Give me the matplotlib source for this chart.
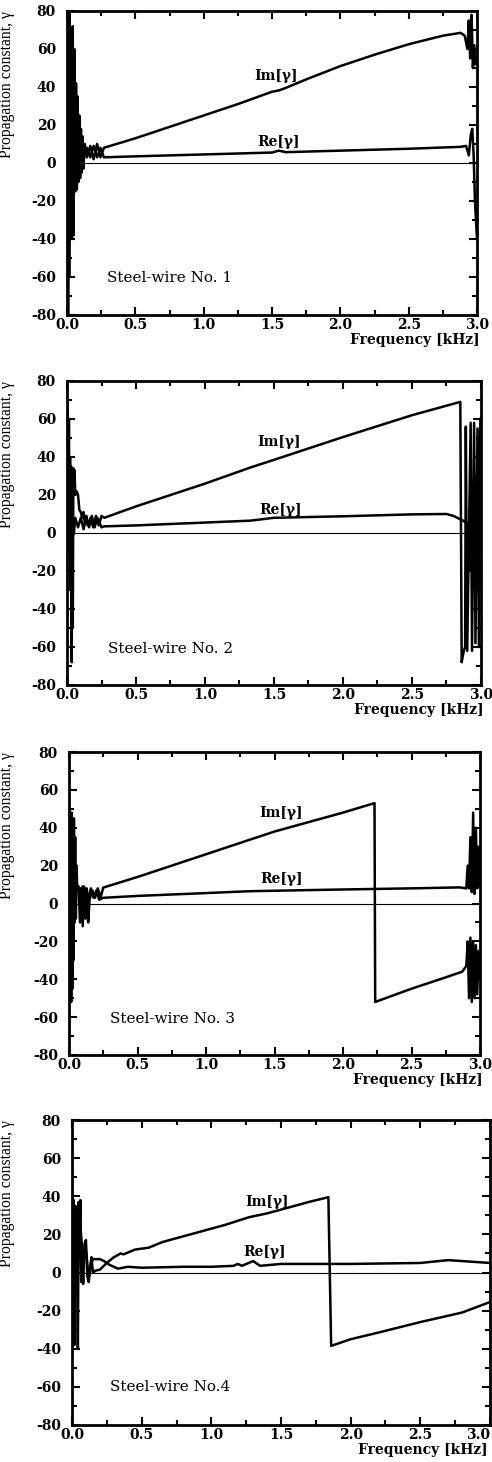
import matplotlib
matplotlib.use("Agg")
import matplotlib.pyplot as plt
from matplotlib.ticker import MultipleLocator

# ---------------- data ----------------
# Panel 1 : Steel-wire No. 1
im1_f = [0.000, 0.004, 0.008, 0.012, 0.016, 0.020, 0.024, 0.030, 0.036, 0.042, 0.048, 0.054,
         0.060, 0.066, 0.072, 0.078, 0.084, 0.090, 0.096, 0.102, 0.108, 0.114, 0.120, 0.130,
         0.145, 0.170, 0.195, 0.220, 0.245, 0.27, 0.5, 0.75, 1.0, 1.25, 1.5, 1.55, 1.6, 1.75,
         2.0, 2.25, 2.5, 2.75, 2.88, 2.91, 2.93, 2.94, 2.95, 2.96, 2.97, 2.98, 2.99]
im1_v = [-80, 80, -80, 75, -60, 80, -30, 70, -40, 72, -38, 60,
         -15, 42, -14, 35, -10, 25, -8, 18, -5, 14, -3, 10,
         3, 9, 2, 10, 3, 8, 13, 19, 25, 31, 37.5, 38.2, 39.5, 44,
         51, 57, 62.5, 67, 68.5, 67, 60, 75, 55, 78, 50, 62, 52]
re1_f = [0.000, 0.006, 0.012, 0.018, 0.025, 0.035, 0.045, 0.055, 0.065, 0.075, 0.085, 0.095,
         0.110, 0.125, 0.145, 0.170, 0.195, 0.220, 0.245, 0.27, 0.5, 1.0, 1.5, 1.55, 1.6,
         2.0, 2.5, 2.88, 2.92, 2.94, 2.955, 2.965, 2.975, 2.985, 3.0]
re1_v = [0, 20, -15, 15, -10, 12, -8, 10, -5, 8, -3, 6,
         1, 5, 8, 3, 9, 3, 8, 3, 3.5, 4.5, 5.5, 6.5, 5.7,
         6.5, 7.5, 8.5, 9, 4, 15, 18, 5, -20, -40]

# Panel 2 : Steel-wire No. 2
im2_f = [0.000, 0.005, 0.010, 0.014, 0.018, 0.022, 0.026, 0.030, 0.034, 0.038, 0.042, 0.046,
         0.050, 0.055, 0.060, 0.070, 0.080, 0.090, 0.100, 0.110, 0.120, 0.130, 0.140, 0.150,
         0.170, 0.190, 0.210, 0.230, 0.250, 0.27, 0.5, 1.0, 1.33, 1.5, 2.0, 2.5, 2.85,
         2.86, 2.875, 2.885, 2.89, 2.90, 2.925, 2.935, 2.95, 2.96, 2.975, 2.985, 2.995]
im2_v = [65, 70, 20, 60, -10, 40, -30, 35, -68, 32, -50, 34,
         25, 33, 20, 22, 20, 12, 11, 8, 11, 5, 9, 4,
         8, 3, 9, 4, 9, 8, 14, 26, 34.5, 38.5, 50.5, 62, 69,
         -68, -62, -60, 56, -62, 58, -62, 58, -58, 55, -60, 60]
re2_f = [0.000, 0.010, 0.020, 0.030, 0.040, 0.050, 0.060, 0.080, 0.100, 0.120, 0.140, 0.160,
         0.180, 0.200, 0.220, 0.250, 0.27, 0.5, 1.0, 1.33, 1.5, 2.0, 2.5, 2.75, 2.8, 2.87,
         2.9, 2.92, 2.93, 2.945, 2.96, 2.975, 2.99]
re2_v = [0, 5, -5, 3, -2, 0, 8, 3, 8, 2, 8, 3,
         9, 3, 8, 3, 3.5, 4, 5.5, 6.5, 8, 8.8, 9.8, 10, 9, 6.5,
         5, -20, 25, -25, 30, -10, 0]

# Panel 3 : Steel-wire No. 3
im3_f = [0.000, 0.004, 0.008, 0.012, 0.016, 0.020, 0.024, 0.028, 0.032, 0.036, 0.040, 0.045,
         0.050, 0.055, 0.060, 0.070, 0.080, 0.090, 0.100, 0.110, 0.120, 0.130, 0.140, 0.150,
         0.170, 0.190, 0.210, 0.230, 0.25, 0.5, 1.0, 1.32, 1.5, 2.0, 2.23, 2.235, 2.5, 2.75,
         2.87, 2.90, 2.91, 2.92, 2.93, 2.94, 2.95, 2.96, 2.97, 2.98, 2.99, 3.0]
im3_v = [20, 50, -50, 45, -52, 48, -45, 40, -30, 45, -10, 35,
         -8, 20, 8, 9, -10, 8, -12, 9, -8, 8, -10, 2,
         7, 3, 8, 3, 8.4, 14, 26, 33.7, 38, 48, 53, -52, -45, -39,
         -36, -33, -20, -50, -18, -52, -20, -50, -22, -48, -25, -40]
re3_f = [0.000, 0.020, 0.040, 0.060, 0.080, 0.100, 0.120, 0.140, 0.160, 0.180, 0.200, 0.220,
         0.25, 0.5, 1.0, 1.32, 2.0, 2.5, 2.85, 2.90, 2.91, 2.92, 2.93, 2.94, 2.95, 2.96,
         2.97, 2.98, 2.99, 3.0]
re3_v = [0, 10, 5, 8, 7, 9, 5, 3, 8, 3, 7, 2,
         3, 4, 5.5, 6.5, 7.4, 8, 8.5, 8, 20, 8, 35, 6, 48, 5,
         40, 8, 30, 10]

# Panel 4 : Steel-wire No. 4
im4_f = [0.000, 0.006, 0.012, 0.018, 0.024, 0.030, 0.036, 0.042, 0.048, 0.054, 0.060, 0.066,
         0.072, 0.080, 0.090, 0.100, 0.110, 0.120, 0.130, 0.140, 0.150, 0.170, 0.200, 0.25,
         0.30, 0.35, 0.37, 0.45, 0.55, 0.65, 0.75, 0.9, 1.0, 1.1, 1.27, 1.4, 1.5, 1.6, 1.7,
         1.84, 1.86, 2.0, 2.2, 2.5, 2.8, 3.0]
im4_v = [40, -30, 38, -38, 35, 10, 30, -40, 37, 20, 38, -5,
         12, -6, 15, 17, -2, -5, 3, 8, 0, 1, 1.5, 5,
         8, 10, 9.5, 12, 13, 16, 18, 21, 23, 25, 29, 31, 33, 35, 37,
         39.5, -38.5, -35, -31.5, -26, -21, -15.5]
re4_f = [0.000, 0.010, 0.020, 0.030, 0.040, 0.060, 0.080, 0.100, 0.120, 0.140, 0.150, 0.200,
         0.23, 0.27, 0.33, 0.4, 0.5, 0.8, 1.0, 1.16, 1.19, 1.22, 1.30, 1.35, 1.5, 2.0, 2.5,
         2.7, 2.8, 3.0]
re4_v = [0, 30, -20, 20, 0, 25, 5, 12, -3, 5, 7, 7,
         6, 4, 2, 3, 2.5, 3, 3, 3.5, 4.5, 3.5, 6, 3.5, 4.5, 4.5, 5,
         6.5, 6, 5]

panels = [
    dict(im_f=im1_f, im_v=im1_v, re_f=re1_f, re_v=re1_v, name="Steel-wire No. 1",
         im_lab=(1.53, 46), re_lab=(1.55, 11), name_pos=(0.29, -60.5)),
    dict(im_f=im2_f, im_v=im2_v, re_f=re2_f, re_v=re2_v, name="Steel-wire No. 2",
         im_lab=(1.54, 48), re_lab=(1.55, 12), name_pos=(0.30, -61)),
    dict(im_f=im3_f, im_v=im3_v, re_f=re3_f, re_v=re3_v, name="Steel-wire No. 3",
         im_lab=(1.55, 48), re_lab=(1.55, 13), name_pos=(0.30, -61)),
    dict(im_f=im4_f, im_v=im4_v, re_f=re4_f, re_v=re4_v, name="Steel-wire No.4",
         im_lab=(1.40, 37), re_lab=(1.38, 10.5), name_pos=(0.27, -60)),
]

xticks = [0.0, 0.5, 1.0, 1.5, 2.0, 2.5, 3.0]
xtick_labels = ["0.0", "0.5", "1.0", "1.5", "2.0", "2.5", "3.0"]
yticks = [-80, -60, -40, -20, 0, 20, 40, 60, 80]
ytick_labels = ["-80", "-60", "-40", "-20", "0", "20", "40", "60", "80"]

# ---------------- figure ----------------
W, H = 492, 1462
fig = plt.figure(figsize=(W / 100, H / 100), dpi=100)
fig.patch.set_facecolor("white")

# axes boxes in pixels: left, right, top, bottom
boxes = [(67, 477, 11, 315), (67, 481, 381, 685), (69, 480, 752, 1055), (72, 490, 1120, 1425)]

times = "Liberation Serif"
wide = "DejaVu Serif"
for i, (p, (l, r, t, b)) in enumerate(zip(panels, boxes)):
    ax = fig.add_axes([l / W, 1 - b / H, (r - l) / W, (b - t) / H])
    ax.set_xlim(0, 3.0)
    ax.set_ylim(-80, 80)
    ax.plot(p["im_f"], p["im_v"], color="black", lw=1.8, solid_joinstyle="round")
    ax.plot(p["re_f"], p["re_v"], color="black", lw=1.8, solid_joinstyle="round")
    ax.axhline(0, color="black", lw=0.8)

    for s in ax.spines.values():
        s.set_linewidth(2.0)
    ax.set_xticks(xticks)
    ax.set_xticklabels(xtick_labels)
    ax.set_yticks(yticks)
    ax.set_yticklabels(ytick_labels)
    ax.xaxis.set_minor_locator(MultipleLocator(0.25))
    ax.yaxis.set_minor_locator(MultipleLocator(10))
    ax.tick_params(which="both", direction="in", top=True, right=True, width=1.5)
    ax.tick_params(which="major", length=5.5)
    ax.tick_params(which="minor", length=3.5)
    ax.tick_params(axis="y", which="major", pad=8)
    ax.tick_params(axis="x", which="major", pad=2)
    for lab in ax.get_xticklabels() + ax.get_yticklabels():
        lab.set_fontfamily(wide)
        lab.set_fontweight("bold")
        lab.set_fontsize(10)
    if r > 485:
        ax.get_xticklabels()[-1].set_ha("right")

    ax.set_ylabel("Propagation constant, γ", fontfamily=times, fontsize=11.3, loc="top")
    ax.yaxis.set_label_coords(-(l - 15) / (r - l), 1.0)
    ax.set_xlabel("Frequency [kHz]", fontfamily=wide, fontweight="bold", fontsize=10,
                  loc="right")
    xr = min(r + 3, 488)
    ax.xaxis.set_label_coords((xr - l) / (r - l), -25 / (b - t))
    ax.xaxis.label.set_va("center")

    ax.text(p["im_lab"][0], p["im_lab"][1], "Im[γ]", fontfamily=wide, fontweight="bold",
            fontsize=10, ha="center", va="center")
    ax.text(p["re_lab"][0], p["re_lab"][1], "Re[γ]", fontfamily=wide, fontweight="bold",
            fontsize=10, ha="center", va="center")
    ax.text(p["name_pos"][0], p["name_pos"][1], p["name"], fontfamily=wide,
            fontsize=11, ha="left", va="center")

fig.savefig("out.png", dpi=100)
